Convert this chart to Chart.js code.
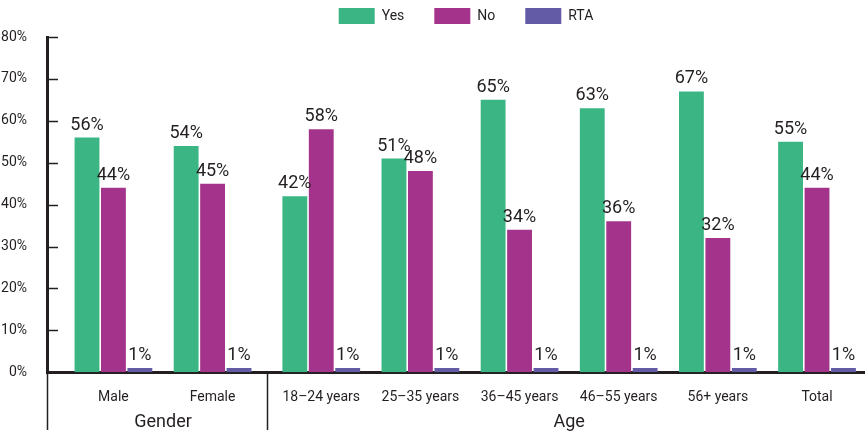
<!DOCTYPE html>
<html>
<head>
<meta charset="utf-8">
<script src="https://cdn.jsdelivr.net/npm/chart.js@4/dist/chart.umd.min.js"></script>
<style>
    html, body { margin: 0; padding: 0; background: #fff; }
    #wrap { width: 865px; height: 435px; position: relative; }
</style>
</head>
<body>
<div id="wrap"><canvas id="surveyChart"></canvas></div>
<script>
const categories = ['Male', 'Female', '18–24 years', '25–35 years', '36–45 years', '46–55 years', '56+ years', 'Total'];
const groupNames = ['Gender', 'Age'];
const groupSizes = [2, 6];
const yesValues = [56, 54, 42, 51, 65, 63, 67, 55];
const noValues = [44, 45, 58, 48, 34, 36, 32, 44];
const rtaValues = [1, 1, 1, 1, 1, 1, 1, 1];
const yTicks = [0, 10, 20, 30, 40, 50, 60, 70, 80];

const TEXT = '#231f20';
const GROUP_GAP = 0.096; // extra space between the two category groups, in category units

// x position of each category on the linear axis (index + group offset)
const xPositions = [];
groupSizes.forEach((size, g) => {
    for (let k = 0; k < size; k++) {
        xPositions.push(xPositions.length + g * GROUP_GAP);
    }
});

function toPoints(values) {
    return values.map((v, i) => ({ x: xPositions[i], y: v }));
}

// legend sits higher (and a bit further right) than Chart.js would put it
const legendFitPatch = {
    id: 'legendFitPatch',
    beforeLayout(chart) {
        const lg = chart.legend;
        if (lg && !lg._patched) {
            const fit = lg.fit.bind(lg);
            lg.fit = function () {
                fit();
                this.height = 59;
            };
            lg._patched = true;
        }
    },
    afterLayout(chart) {
        const lg = chart.legend;
        if (lg) {
            lg.left += 10;
            lg.right += 10;
        }
    }
};

const valueLabels = {
    id: 'valueLabels',
    afterDatasetsDraw(chart) {
        const ctx = chart.ctx;
        ctx.save();
        ctx.font = '18px Roboto, sans-serif';
        ctx.fillStyle = TEXT;
        ctx.textAlign = 'center';
        ctx.textBaseline = 'alphabetic';
        chart.data.datasets.forEach((ds, di) => {
            const meta = chart.getDatasetMeta(di);
            meta.data.forEach((bar, i) => {
                ctx.fillText(ds.data[i].y + '%', bar.x, bar.y - 8);
            });
        });
        ctx.restore();
    }
};

const axisDecor = {
    id: 'axisDecor',
    afterDraw(chart) {
        const ctx = chart.ctx;
        const area = chart.chartArea;
        const x = chart.scales.x;
        const y = chart.scales.y;
        ctx.save();
        ctx.strokeStyle = TEXT;

        // inward tick marks on the y axis
        ctx.lineWidth = 1.5;
        y.ticks.forEach((t, i) => {
            if (i === 0) return;
            const py = Math.round(y.getPixelForTick(i)) + 0.5;
            ctx.beginPath();
            ctx.moveTo(area.left, py);
            ctx.lineTo(area.left + 11, py);
            ctx.stroke();
        });

        // group separators below the axis
        const bottom = 430;
        const seps = [area.left];
        let idx = 0;
        groupSizes.forEach((size, g) => {
            idx += size;
            if (g < groupSizes.length - 1) {
                seps.push((x.getPixelForValue(xPositions[idx - 1]) + x.getPixelForValue(xPositions[idx])) / 2);
            }
        });
        seps.forEach(px => {
            ctx.beginPath();
            ctx.moveTo(Math.round(px) + 0.5, area.bottom);
            ctx.lineTo(Math.round(px) + 0.5, bottom);
            ctx.stroke();
        });

        // group names
        ctx.font = '18px Roboto, sans-serif';
        ctx.fillStyle = TEXT;
        ctx.textAlign = 'center';
        ctx.textBaseline = 'middle';
        let start = 0;
        groupSizes.forEach((size, g) => {
            const a = x.getPixelForValue(xPositions[start]);
            const b = x.getPixelForValue(xPositions[start + size - 1]);
            ctx.fillText(groupNames[g], (a + b) / 2, 422);
            start += size;
        });
        ctx.restore();
    }
};

const ctx = document.getElementById('surveyChart').getContext('2d');
Chart.defaults.font.family = 'Roboto, sans-serif';
Chart.defaults.color = TEXT;

const chart = new Chart(ctx, {
    type: 'bar',
    data: {
        datasets: [
            { label: 'Yes', data: toPoints(yesValues), backgroundColor: '#3bb584' },
            { label: 'No', data: toPoints(noValues), backgroundColor: '#a4348b' },
            { label: 'RTA', data: toPoints(rtaValues), backgroundColor: '#635ba6' }
        ]
    },
    options: {
        responsive: true,
        maintainAspectRatio: false,
        animation: false,
        categoryPercentage: 0.8,
        barPercentage: 0.94,
        layout: {
            padding: { top: -22, right: 0, bottom: 20, left: 0 }
        },
        scales: {
            x: {
                type: 'linear',
                offset: false,
                min: -0.67,
                max: 7.58,
                grid: { display: false },
                border: { display: true, width: 3, color: TEXT },
                afterBuildTicks: (scale) => {
                    scale.ticks = xPositions.map(v => ({ value: v }));
                },
                ticks: {
                    autoSkip: false,
                    maxRotation: 0,
                    padding: 9,
                    font: { size: 14 },
                    color: TEXT,
                    callback: (value, index) => categories[index]
                }
            },
            y: {
                min: 0,
                max: 80,
                grid: { display: false },
                border: { display: true, width: 3, color: TEXT },
                afterBuildTicks: (scale) => {
                    scale.ticks = yTicks.map(v => ({ value: v }));
                },
                afterFit: (scale) => {
                    scale.width = 47;
                },
                ticks: {
                    padding: 12,
                    font: { size: 14 },
                    color: TEXT,
                    callback: (value) => value + '%'
                }
            }
        },
        plugins: {
            legend: {
                position: 'top',
                fullSize: false,
                labels: {
                    boxWidth: 36,
                    boxHeight: 16,
                    padding: 30,
                    font: { size: 14 },
                    color: TEXT
                }
            },
            tooltip: { enabled: false }
        }
    },
    plugins: [legendFitPatch, valueLabels, axisDecor]
});
</script>
</body>
</html>
